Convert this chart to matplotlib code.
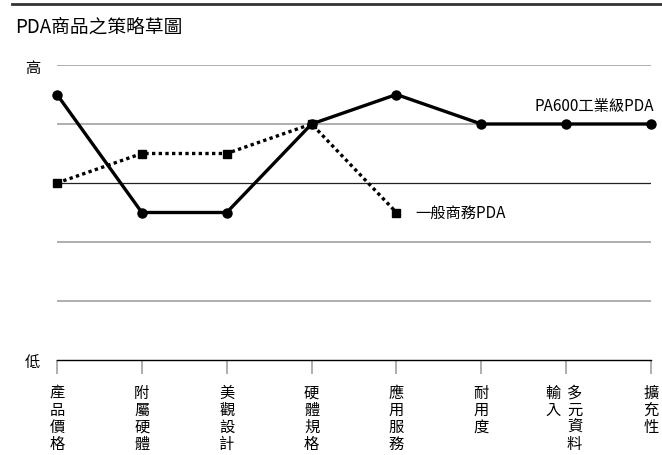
import matplotlib
matplotlib.use('Agg')
import matplotlib.pyplot as plt
from matplotlib.lines import Line2D

plt.rcParams['font.family'] = ['Noto Sans CJK TC', 'DejaVu Sans']

# data
categories = ['產品價格', '附屬硬體', '美觀設計', '硬體規格', '應用服務', '耐用度', '輸入多元資料', '擴充性']
pa600 = [4.5, 2.5, 2.5, 4, 4.5, 4, 4, 4]
business = [3, 3.5, 3.5, 4, 2.5]
y_labels = ['低', '', '', '', '', '高']

fig = plt.figure(figsize=(6.62, 4.56), dpi=100)
ax = fig.add_axes([57/662, 1 - 361/456, (651 - 57)/662, (361 - 66)/456])

x_all = list(range(len(categories)))
ax.set_xlim(0, len(categories) - 1)
ax.set_ylim(0, 5)

# horizontal grid lines
for lvl in [1, 2, 4, 5]:
    ax.axhline(lvl, color='#999999', lw=1.1, zorder=1)
ax.axhline(3, color='#222222', lw=0.9, zorder=1)

ax.plot(x_all, pa600, color='black', lw=2.4, marker='o', ms=6.5, clip_on=False, zorder=4)
ax.plot(x_all[:len(business)], business, color='black', lw=2.4, ls=(0, (1, 1)),
        marker='s', ms=5.5, clip_on=False, zorder=3)

ax.annotate('PA600工業級PDA', xy=(x_all[-1], pa600[-1]), xytext=(2, 13),
            textcoords='offset points', ha='right', va='center', fontsize=11)
ax.annotate('一般商務PDA', xy=(x_all[len(business) - 1], business[-1]), xytext=(14, 0),
            textcoords='offset points', ha='left', va='center', fontsize=11)

for s in ['top', 'right', 'left']:
    ax.spines[s].set_visible(False)
ax.spines['bottom'].set_color('black')
ax.spines['bottom'].set_linewidth(1.0)

ax.set_yticks(range(6))
ax.set_yticklabels(y_labels, fontsize=11)
ax.tick_params(axis='y', length=0, pad=12)

ax.set_xticks(x_all)
tick_text = []
for c in categories:
    if c == '輸入多元資料':
        tick_text.append('')
    else:
        tick_text.append('\n'.join(c))
ax.set_xticklabels(tick_text, fontsize=11, linespacing=1.0, va='top')
ax.tick_params(axis='x', length=10, width=1.1, color='#999999', pad=7)

# split label for 輸入多元資料
i = categories.index('輸入多元資料')
ax.annotate('\n'.join('輸入'), xy=(i, 0), xycoords=('data', 'axes fraction'),
            xytext=(-9.5, -17), textcoords='offset points', ha='center', va='top',
            fontsize=11, linespacing=1.0)
ax.annotate('\n'.join('多元資料'), xy=(i, 0), xycoords=('data', 'axes fraction'),
            xytext=(6, -17), textcoords='offset points', ha='center', va='top',
            fontsize=11, linespacing=1.0)

fig.text(15/662, 1 - 27/456, 'PDA商品之策略草圖', fontsize=13.5, va='center', ha='left')
fig.add_artist(Line2D([12/662, 1], [1 - 5/456, 1 - 5/456], color='#333333', lw=2))

fig.savefig('out.png', dpi=100)
